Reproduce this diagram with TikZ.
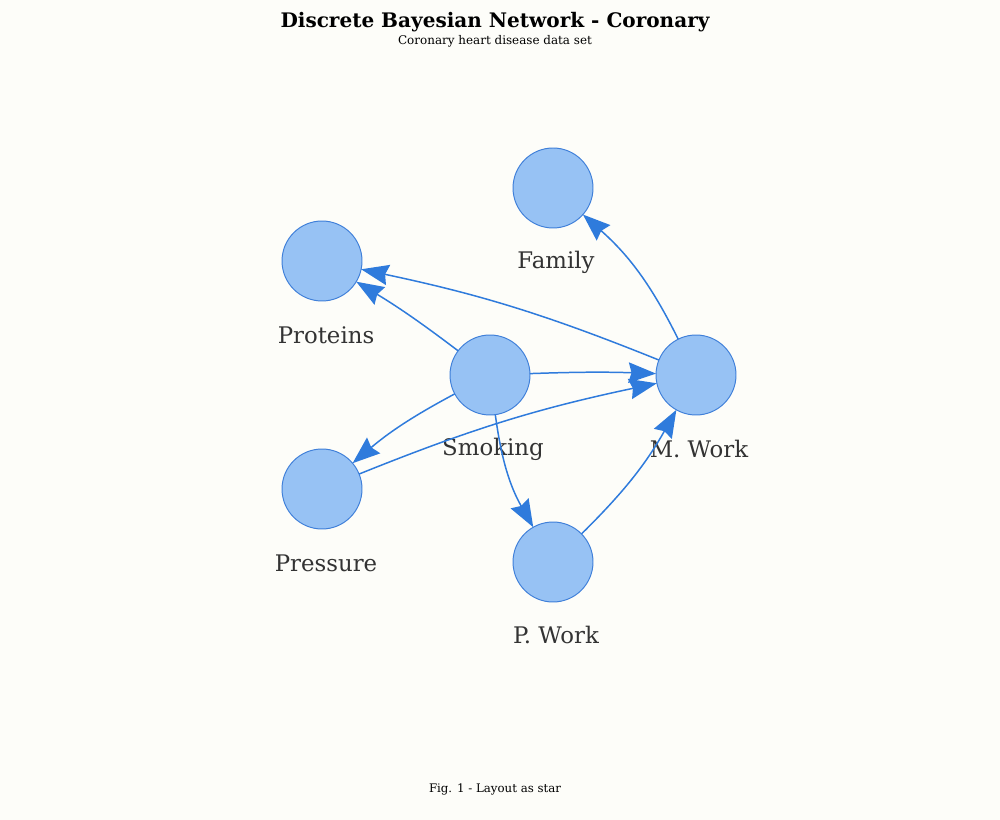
\documentclass[tikz,border=0pt]{standalone}
\usepackage{fontspec}
\setmainfont{DejaVu Serif}
\usepackage{tikz}
\usetikzlibrary{arrows.meta}
\definecolor{bgpaper}{HTML}{FDFDF9}
\definecolor{nodeblue}{HTML}{97C2F4}
\definecolor{rimblue}{HTML}{3F7FD9}
\definecolor{edgeblue}{HTML}{2F7BDC}
\definecolor{labgray}{HTML}{333333}

\begin{document}
\begin{tikzpicture}[x=0.02cm, y=-0.02cm,
    var/.style={draw=rimblue, line width=0.55pt, fill=nodeblue, circle, minimum size=1.6cm, inner sep=0pt, outer sep=0pt},
    lab/.style={text=labgray, font=\fontsize{13}{15}\selectfont},
    dep/.style={draw=edgeblue, line width=0.85pt, -{Stealth[length=5.5mm, width=4.1mm, inset=0.6mm]}}]
  \fill[bgpaper] (0,0) rectangle (1000,820);
  \useasboundingbox (0,0) rectangle (1000,820);

  \node[font=\bfseries\fontsize{11.4}{13}\selectfont] at (495,22) (title) {Discrete Bayesian Network - Coronary};
  \node[font=\fontsize{6.8}{8}\selectfont] at (495,41) (subtitle) {Coronary heart disease data set};

  \node[var] at (553,188) (fam) {};
  \node[var] at (322,261) (prot) {};
  \node[var] at (490,375) (smok) {};
  \node[var] at (696,375) (mwork) {};
  \node[var] at (322,489) (pres) {};
  \node[var] at (553,562) (pwork) {};

  \node[lab] at (556,262) (famlab) {Family};
  \node[lab] at (326,335) (protlab) {Proteins};
  \node[lab] at (493,449) (smoklab) {Smoking};
  \node[lab] at (699,449) (mworklab) {M. Work};
  \node[lab] at (326,563) (preslab) {Pressure};
  \node[lab] at (556,635) (pworklab) {P. Work};

  \draw[dep] (mwork) to[bend right=11] (fam);
  \draw[dep] (mwork) to[bend right=5] (prot);
  \draw[dep] (smok) to[bend right=3] (prot);
  \draw[dep] (smok) to[bend left=2] (mwork);
  \draw[dep] (smok) to[bend right=6] (pres);
  \draw[dep] (smok) to[bend right=11] (pwork);
  \draw[dep] (pres) to[bend left=5] (mwork);
  \draw[dep] (pwork) to[bend right=8] (mwork);

  \node[font=\fontsize{6.7}{8}\selectfont] at (495,789) (caption) {Fig. 1 - Layout as star};
\end{tikzpicture}
\end{document}
